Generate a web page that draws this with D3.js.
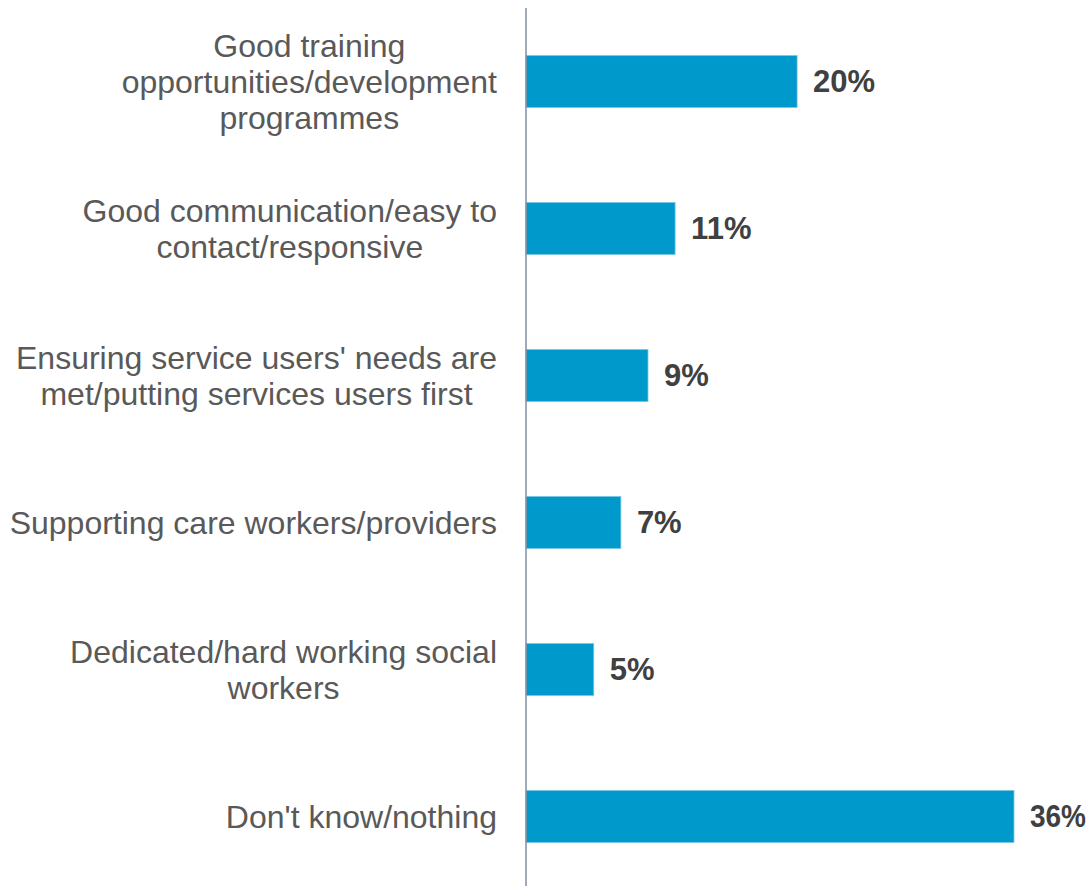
<!DOCTYPE html>
<html>
<head>
<meta charset="utf-8">
<script src="https://cdn.jsdelivr.net/npm/d3@7/dist/d3.min.js"></script>
<style>
  html, body { margin: 0; padding: 0; background: #ffffff; }
  svg { display: block; }
</style>
</head>
<body>
<svg id="chart" width="1091" height="886"></svg>
<script>
// Survey responses: what respondents value most
const categories = [
  ["Good training", "opportunities/development", "programmes"],
  ["Good communication/easy to", "contact/responsive"],
  ["Ensuring service users' needs are", "met/putting services users first"],
  ["Supporting care workers/providers"],
  ["Dedicated/hard working social", "workers"],
  ["Don't know/nothing"]
];
const values = [20, 11, 9, 7, 5, 36];
const valueLabels = ["20%", "11%", "9%", "7%", "5%", "36%"];

const width = 1091;
const svg = d3.select("#chart");
const axisX = 526;
const labelRight = 497;
const lineHeight = 36;
const font = "'Liberation Sans', Arial, sans-serif";

const x = d3.scaleLinear().domain([0, 36]).range([axisX, axisX + 488]);
const y = d3.scaleBand()
  .domain(d3.range(categories.length))
  .range([8, 890])
  .paddingInner(0.646)
  .paddingOuter(0.323);

// bars
svg.append("g").selectAll("rect")
  .data(values)
  .join("rect")
  .attr("x", x(0))
  .attr("y", (d, i) => y(i))
  .attr("width", d => x(d) - x(0))
  .attr("height", y.bandwidth())
  .attr("fill", "#0099cc")
  .attr("stroke", "#7cc8e6")
  .attr("stroke-width", 0.8);

// value labels (squeezed when they would run past the right edge)
svg.append("g").selectAll("text")
  .data(values)
  .join("text")
  .attr("x", d => x(d) + 16)
  .attr("y", (d, i) => y(i) + y.bandwidth() / 2)
  .attr("dy", "0.35em")
  .attr("font-family", font)
  .attr("font-size", 31)
  .attr("font-weight", "bold")
  .attr("fill", "#404040")
  .text((d, i) => valueLabels[i])
  .each(function (d) {
    const start = x(d) + 16;
    const avail = width - 5 - start;
    if (this.getComputedTextLength() > avail) {
      d3.select(this)
        .attr("textLength", avail)
        .attr("lengthAdjust", "spacingAndGlyphs");
    }
  });

// category labels: block right-aligned, lines centred within block
const labelG = svg.append("g");
categories.forEach((lines, i) => {
  const cy = y(i) + y.bandwidth() / 2;
  const g = labelG.append("g");
  const texts = lines.map((line, k) =>
    g.append("text")
      .attr("y", cy + (k - (lines.length - 1) / 2) * lineHeight)
      .attr("dy", "0.35em")
      .attr("font-family", font)
      .attr("font-size", 32)
      .attr("fill", "#595959")
      .attr("text-anchor", "middle")
      .text(line)
  );
  const maxW = d3.max(texts, t => t.node().getComputedTextLength());
  texts.forEach(t => t.attr("x", labelRight - maxW / 2));
});

// vertical axis line
svg.append("line")
  .attr("x1", axisX).attr("x2", axisX)
  .attr("y1", 8).attr("y2", 886)
  .attr("stroke", "#7f8fa0")
  .attr("stroke-width", 1.5);
</script>
</body>
</html>
